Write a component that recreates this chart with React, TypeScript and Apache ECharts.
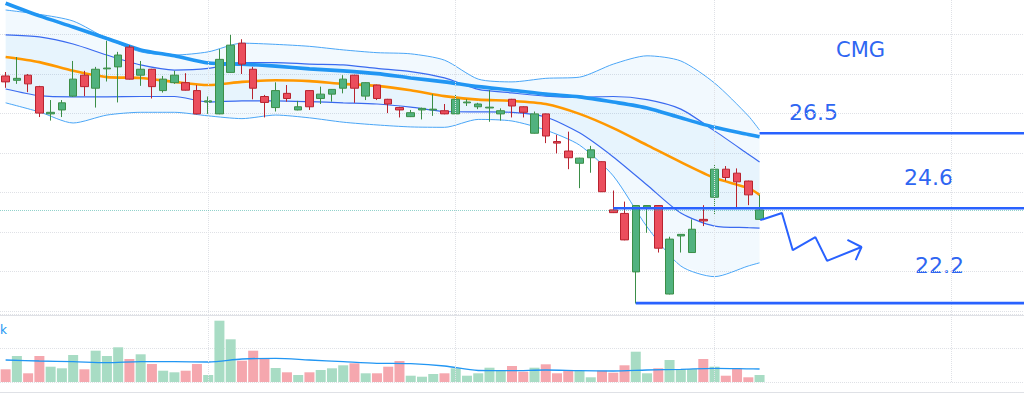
import React, { useEffect, useRef } from 'react';
import * as echarts from 'echarts';

// ---------- data ----------
const SLOT_COUNT = 91; // candles + empty space on the right
const CATEGORIES = Array.from({ length: SLOT_COUNT }, (_, i) => `D${i + 1}`);

// [open, close, low, high]
const CANDLES: number[][] = [
  [27.95, 27.80, 27.65, 28.05],
  [27.84, 27.89, 27.75, 28.43],
  [27.97, 27.75, 27.54, 28.00],
  [27.68, 27.01, 26.91, 27.70],
  [26.99, 27.03, 26.82, 27.34],
  [27.09, 27.27, 26.91, 27.34],
  [27.44, 27.87, 27.42, 28.33],
  [27.97, 27.68, 27.44, 28.08],
  [27.64, 28.12, 27.15, 28.18],
  [28.13, 28.15, 27.81, 28.84],
  [28.18, 28.48, 27.28, 28.56],
  [28.68, 27.87, 27.86, 28.73],
  [27.97, 28.12, 27.70, 28.33],
  [28.12, 27.68, 27.38, 28.13],
  [27.58, 27.87, 27.53, 27.95],
  [27.78, 27.97, 27.75, 28.08],
  [27.78, 27.59, 27.58, 28.02],
  [27.58, 26.99, 26.98, 27.72],
  [27.29, 27.32, 26.99, 27.43],
  [26.99, 28.37, 26.98, 28.63],
  [28.04, 28.73, 28.03, 28.99],
  [28.78, 28.25, 28.00, 28.88],
  [28.12, 27.64, 27.36, 28.18],
  [27.43, 27.28, 26.90, 27.47],
  [27.15, 27.58, 27.05, 27.79],
  [27.51, 27.38, 27.30, 27.72],
  [27.09, 27.17, 27.08, 27.32],
  [27.58, 27.17, 27.09, 27.59],
  [27.38, 27.49, 27.24, 27.68],
  [27.49, 27.61, 27.30, 27.62],
  [27.64, 27.87, 27.51, 27.97],
  [27.97, 27.64, 27.27, 27.98],
  [27.44, 27.78, 27.34, 27.79],
  [27.72, 27.38, 27.34, 27.73],
  [27.36, 27.24, 27.01, 27.37],
  [27.15, 27.09, 26.90, 27.17],
  [26.92, 27.02, 26.91, 27.09],
  [27.09, 27.13, 26.85, 27.15],
  [27.09, 27.11, 26.94, 27.49],
  [27.07, 26.99, 26.98, 27.24],
  [26.99, 27.36, 26.98, 27.49],
  [27.27, 27.29, 27.19, 27.36],
  [27.17, 27.24, 27.11, 27.27],
  [27.14, 27.16, 26.79, 27.59],
  [26.99, 27.07, 26.82, 27.13],
  [27.36, 27.19, 26.90, 27.37],
  [27.17, 27.03, 26.90, 27.18],
  [26.50, 26.99, 26.49, 27.05],
  [26.99, 26.43, 26.25, 27.00],
  [26.29, 26.25, 25.99, 26.46],
  [26.05, 25.88, 25.59, 26.54],
  [25.74, 25.87, 25.11, 25.88],
  [25.88, 26.08, 25.50, 26.18],
  [25.78, 25.02, 25.01, 25.79],
  [24.56, 24.49, 24.48, 25.05],
  [24.47, 23.80, 23.79, 24.77],
  [22.99, 24.67, 22.19, 24.68],
  [24.63, 24.67, 23.98, 24.68],
  [24.67, 23.59, 23.48, 24.68],
  [22.43, 23.82, 22.42, 23.88],
  [23.90, 23.94, 23.48, 23.95],
  [23.48, 24.07, 23.47, 24.32],
  [24.32, 24.28, 24.15, 24.68],
  [24.88, 25.59, 24.43, 25.72],
  [25.59, 25.38, 25.30, 25.67],
  [25.49, 25.27, 24.60, 25.61],
  [25.29, 24.94, 24.68, 25.30],
  [24.32, 24.56, 24.31, 24.94],
];

// volume (thousand shares)
const VOLUME: number[] = [
  127, 260, 87, 260, 153, 137, 270, 127, 313, 260,
  347, 230, 277, 180, 113, 97, 113, 180, 70, 613,
  427, 213, 313, 237, 140, 97, 70, 97, 120, 137,
  167, 187, 87, 87, 153, 210, 63, 53, 80, 87,
  137, 63, 87, 143, 113, 160, 103, 143, 177, 87,
  120, 110, 47, 113, 93, 167, 303, 87, 137, 220,
  130, 130, 230, 153, 63, 137, 47, 70,
];

// indicator readings at these candle indices
const IND_IDX = [0, 3, 6, 9, 12, 15, 18, 21, 24, 27, 30, 33, 36, 39, 42, 45, 48, 51, 54, 57, 60, 63, 66, 67];
const MA_SLOW = [29.79, 29.47, 29.19, 28.90, 28.61, 28.46, 28.28, 28.25, 28.20, 28.13, 28.08, 28.01, 27.90, 27.80, 27.68, 27.59, 27.49, 27.42, 27.29, 27.14, 26.89, 26.65, 26.47, 26.41];
const BASIS = [28.43, 28.30, 28.08, 27.92, 27.90, 27.80, 27.72, 27.80, 27.84, 27.82, 27.75, 27.70, 27.59, 27.44, 27.35, 27.32, 27.24, 26.99, 26.63, 26.20, 25.77, 25.37, 25.11, 24.94];
const OUTER_UP = [29.62, 29.51, 29.34, 28.90, 28.56, 28.48, 28.56, 28.78, 28.75, 28.70, 28.61, 28.54, 28.51, 28.35, 27.87, 27.80, 27.89, 27.92, 28.25, 28.46, 28.33, 27.77, 26.94, 26.58];
const INNER_UP = [28.99, 28.94, 28.76, 28.48, 28.23, 28.10, 28.14, 28.29, 28.29, 28.25, 28.23, 28.14, 28.06, 27.90, 27.61, 27.52, 27.44, 27.41, 27.43, 27.35, 27.11, 26.56, 25.97, 25.77];
const INNER_LO = [27.62, 27.45, 27.42, 27.42, 27.43, 27.43, 27.29, 27.32, 27.32, 27.30, 27.27, 27.24, 27.16, 27.05, 27.04, 27.03, 26.91, 26.51, 25.90, 25.19, 24.48, 24.15, 24.11, 24.10];
const OUTER_LO = [27.27, 27.04, 26.76, 26.96, 27.03, 27.03, 26.94, 26.87, 26.96, 26.89, 26.78, 26.71, 26.66, 26.65, 26.85, 26.81, 26.58, 26.20, 25.42, 24.13, 23.14, 22.87, 23.14, 23.22];
const VOL_MA = [220, 210, 203, 193, 203, 203, 200, 230, 237, 220, 203, 187, 183, 160, 115, 113, 120, 113, 110, 120, 127, 137, 132, 130];

// drawn levels: price, starting candle index
const LEVEL_PRICES = [26.5, 24.6, 22.2];
const LEVEL_START = [67, 54, 56];
const LEVEL_LABELS = ['26.5', '24.6', '22.2'];

// hand-drawn zig-zag arrow (candle index, price)
const ZIG_X = [67.06, 68.99, 69.95, 71.96, 73.0, 76.06];
const ZIG_Y = [24.3, 24.48, 23.54, 23.87, 23.27, 23.62];
const HEAD_X = [74.81, 76.06, 75.54];
const HEAD_Y = [23.8, 23.62, 23.29];

const VGRID_IDX = [18, 40, 63, 84];

// ---------- styling ----------
const GRID_COLOR = '#dfe1e6';
const LEVEL_COLOR = '#2962ff';
const UP_BODY = '#51b27f';
const UP_LINE = '#3b8e47';
const DN_BODY = '#eb4e5d';
const DN_LINE = '#b8232f';
const VOL_UP = '#a8dcc4';
const VOL_DN = '#f5a7ae';
const FONT = 'DejaVu Sans';

const pairs = (xs: number[], ys: number[]) => xs.map((x, k) => [x, ys[k]]);

function bandPolygon(upper: number[], lower: number[], fill: string) {
  return {
    type: 'custom',
    coordinateSystem: 'cartesian2d',
    xAxisIndex: 2,
    yAxisIndex: 0,
    silent: true,
    z: 1,
    data: [[0, 25]],
    renderItem: (_p: any, api: any) => {
      const top = IND_IDX.map((x, k) => api.coord([x, upper[k]]));
      const bot = IND_IDX.map((x, k) => api.coord([x, lower[k]])).reverse();
      return { type: 'polygon', shape: { points: top.concat(bot) }, style: { fill } };
    },
  };
}

function overlayLine(ys: number[], color: string, width: number, z: number) {
  return {
    type: 'line',
    xAxisIndex: 2,
    yAxisIndex: 0,
    data: pairs(IND_IDX, ys),
    showSymbol: false,
    symbol: 'none',
    silent: true,
    smooth: 0.25,
    z,
    lineStyle: { color, width },
  };
}

function buildOption(): any {
  const vgridMark = {
    silent: true,
    symbol: ['none', 'none'],
    label: { show: false },
    lineStyle: { color: GRID_COLOR, type: 'dotted', width: 1 },
    data: VGRID_IDX.map((v) => ({ xAxis: v })),
  };

  const levelSeries = LEVEL_PRICES.map((p, k) => ({
    type: 'line',
    xAxisIndex: 2,
    yAxisIndex: 0,
    data: [
      [LEVEL_START[k], p],
      [SLOT_COUNT, p],
    ],
    showSymbol: false,
    symbol: 'none',
    silent: true,
    z: 6,
    lineStyle: { color: LEVEL_COLOR, width: 2.6 },
  }));

  const lastClose = CANDLES[CANDLES.length - 1][1];

  return {
    animation: false,
    backgroundColor: '#ffffff',
    textStyle: { fontFamily: FONT },
    grid: [
      { left: -10.18, width: 1041.4, top: 0, height: 315 },
      { left: -10.18, width: 1041.4, top: 314, height: 68 },
    ],
    xAxis: [
      {
        type: 'category',
        gridIndex: 0,
        data: CATEGORIES,
        boundaryGap: true,
        axisLine: { show: true, onZero: false, lineStyle: { color: GRID_COLOR } },
        axisTick: { show: false },
        axisLabel: { show: false },
        splitLine: { show: false },
      },
      {
        type: 'category',
        gridIndex: 1,
        data: CATEGORIES,
        boundaryGap: true,
        axisLine: { show: false },
        axisTick: { show: false },
        axisLabel: { show: false },
        splitLine: { show: false },
      },
      { type: 'value', gridIndex: 0, min: -0.5, max: SLOT_COUNT - 0.5, show: false, splitLine: { show: false } },
      { type: 'value', gridIndex: 1, min: -0.5, max: SLOT_COUNT - 0.5, show: false, splitLine: { show: false } },
    ],
    yAxis: [
      {
        type: 'value',
        gridIndex: 0,
        min: 21.899,
        max: 29.873,
        splitNumber: 8,
        axisLine: { show: false },
        axisTick: { show: false },
        axisLabel: { show: false },
        splitLine: {
          show: true,
          showMinLine: false,
          showMaxLine: false,
          lineStyle: { color: GRID_COLOR, type: 'dotted', width: 1 },
        },
      },
      {
        type: 'value',
        gridIndex: 1,
        min: 0,
        max: 680,
        interval: 340,
        axisLine: { show: false },
        axisTick: { show: false },
        axisLabel: { show: false },
        splitLine: { show: true, lineStyle: { color: GRID_COLOR, type: 'dotted', width: 1 } },
      },
    ],
    series: [
      bandPolygon(OUTER_UP, OUTER_LO, 'rgba(33,150,243,0.06)'),
      bandPolygon(INNER_UP, INNER_LO, 'rgba(33,150,243,0.05)'),
      {
        type: 'line',
        xAxisIndex: 2,
        yAxisIndex: 0,
        data: [],
        silent: true,
        markLine: vgridMark,
      },
      overlayLine(OUTER_UP, '#4aa6f7', 1, 2),
      overlayLine(OUTER_LO, '#4aa6f7', 1, 2),
      overlayLine(INNER_UP, '#3a6af0', 1.2, 2),
      overlayLine(INNER_LO, '#3a6af0', 1.2, 2),
      overlayLine(BASIS, '#ff9800', 2.6, 3),
      overlayLine(MA_SLOW, '#2196f3', 3.6, 3),
      {
        type: 'candlestick',
        xAxisIndex: 0,
        yAxisIndex: 0,
        data: CANDLES,
        barWidth: 8,
        z: 4,
        itemStyle: {
          color: UP_BODY,
          color0: DN_BODY,
          borderColor: UP_LINE,
          borderColor0: DN_LINE,
          borderWidth: 1,
        },
        markLine: {
          silent: true,
          symbol: ['none', 'none'],
          label: { show: false },
          lineStyle: { color: 'rgba(38,166,154,0.5)', type: 'dotted', width: 1 },
          data: [{ yAxis: lastClose }],
        },
      },
      ...levelSeries,
      {
        type: 'line',
        xAxisIndex: 2,
        yAxisIndex: 0,
        data: pairs(ZIG_X, ZIG_Y),
        showSymbol: false,
        symbol: 'none',
        silent: true,
        z: 6,
        lineStyle: { color: LEVEL_COLOR, width: 2 },
      },
      {
        type: 'line',
        xAxisIndex: 2,
        yAxisIndex: 0,
        data: pairs(HEAD_X, HEAD_Y),
        showSymbol: false,
        symbol: 'none',
        silent: true,
        z: 6,
        lineStyle: { color: LEVEL_COLOR, width: 2 },
      },
      {
        type: 'bar',
        xAxisIndex: 1,
        yAxisIndex: 1,
        barWidth: 10,
        silent: true,
        data: VOLUME.map((v, i) => ({
          value: v,
          itemStyle: { color: CANDLES[i][1] >= CANDLES[i][0] ? VOL_UP : VOL_DN },
        })),
      },
      {
        type: 'line',
        xAxisIndex: 3,
        yAxisIndex: 1,
        data: pairs(IND_IDX, VOL_MA),
        showSymbol: false,
        symbol: 'none',
        silent: true,
        smooth: 0.3,
        z: 3,
        lineStyle: { color: '#2196f3', width: 1.3 },
        markLine: vgridMark,
      },
    ],
    graphic: [
      {
        type: 'text',
        left: 836,
        top: 39,
        style: { text: 'CMG', fontSize: 21, fontFamily: FONT, fill: '#2f66f2' },
      },
      {
        type: 'text',
        left: 789,
        top: 101,
        style: { text: LEVEL_LABELS[0], fontSize: 22, fontFamily: FONT, fill: '#2f66f2' },
      },
      {
        type: 'text',
        left: 904,
        top: 166,
        style: { text: LEVEL_LABELS[1], fontSize: 22, fontFamily: FONT, fill: '#2f66f2' },
      },
      {
        type: 'text',
        left: 915,
        top: 254,
        style: { text: LEVEL_LABELS[2], fontSize: 22, fontFamily: FONT, fill: '#2f66f2' },
      },
      {
        type: 'text',
        left: 0,
        top: 324,
        style: { text: 'k', fontSize: 12, fontFamily: FONT, fill: '#2196f3' },
      },
      {
        type: 'line',
        shape: { x1: 0, y1: 392.5, x2: 1024, y2: 392.5 },
        style: { stroke: GRID_COLOR, lineWidth: 1 },
        silent: true,
      },
    ],
  };
}

export default function App() {
  const ref = useRef<HTMLDivElement>(null);
  useEffect(() => {
    if (!ref.current) return;
    const chart = echarts.init(ref.current, null, { renderer: 'svg' });
    chart.setOption(buildOption());
    return () => {
      chart.dispose();
    };
  }, []);
  return (
    <div
      ref={ref}
      style={{ position: 'absolute', left: 0, top: 0, width: 1024, height: 400, background: '#ffffff', overflow: 'hidden' }}
    />
  );
}
